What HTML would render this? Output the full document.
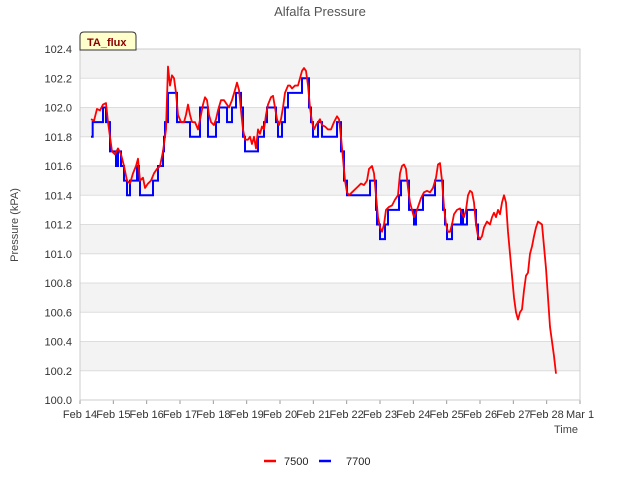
<!DOCTYPE html>
<html><head><meta charset="utf-8"><style>
body{margin:0;background:#fff;font-family:"Liberation Sans","DejaVu Sans",sans-serif}
</style></head><body>
<svg id="c" width="640" height="480" xmlns="http://www.w3.org/2000/svg">
<rect width="640" height="480" fill="#fff"/>
<g id="bands"></g>
<g id="grid"></g>
<g id="axes"></g>
<g id="series"></g>
<text x="320" y="16" text-anchor="middle" font-size="13" fill="#555">Alfalfa Pressure</text>
<text transform="translate(18,225) rotate(-90)" text-anchor="middle" font-size="11" fill="#444">Pressure (kPA)</text>
<text x="566" y="433" text-anchor="middle" font-size="11" fill="#444">Time</text>
<g>
<path d="M80,50 L80,36 Q80,32 84,32 L132,32 Q136,32 136,36 L136,50 Z" fill="#ffffcc" stroke="#333" stroke-width="1"/>
<text x="87" y="46" font-size="11" font-weight="bold" fill="#8b0000">TA_flux</text>
</g>
<g>
<line x1="264" y1="461" x2="276" y2="461" stroke="#f00" stroke-width="2.5"/>
<text x="284" y="465" font-size="11" fill="#222">7500</text>
<line x1="319" y1="461" x2="331" y2="461" stroke="#00f" stroke-width="2.5"/>
<text x="346" y="465" font-size="11" fill="#222">7700</text>
</g>
</svg>
<script>
const yTicks=[100.0,100.2,100.4,100.6,100.8,101.0,101.2,101.4,101.6,101.8,102.0,102.2,102.4];
const xTickLabels=["Feb 14","Feb 15","Feb 16","Feb 17","Feb 18","Feb 19","Feb 20","Feb 21","Feb 22","Feb 23","Feb 24","Feb 25","Feb 26","Feb 27","Feb 28","Mar 1"];
const redTimes=[0.33,0.42,0.51,0.60,0.69,0.78,0.84,0.90,0.96,1.05,1.14,1.23,1.32,1.41,1.50,1.59,1.68,1.74,1.80,1.89,1.95,2.04,2.13,2.22,2.31,2.40,2.49,2.58,2.64,2.70,2.76,2.82,2.88,2.94,3.03,3.12,3.18,3.24,3.30,3.36,3.45,3.54,3.63,3.69,3.75,3.81,3.87,3.93,4.02,4.08,4.14,4.23,4.32,4.41,4.47,4.56,4.65,4.71,4.77,4.83,4.89,4.95,5.04,5.10,5.16,5.22,5.28,5.34,5.40,5.46,5.52,5.58,5.64,5.73,5.79,5.85,5.91,5.97,6.03,6.09,6.15,6.24,6.30,6.36,6.45,6.54,6.60,6.66,6.72,6.78,6.84,6.90,6.96,7.02,7.08,7.14,7.20,7.26,7.35,7.44,7.53,7.62,7.71,7.77,7.83,7.89,7.95,8.01,8.07,8.16,8.25,8.34,8.43,8.52,8.61,8.67,8.76,8.82,8.88,8.94,9.00,9.06,9.12,9.18,9.27,9.36,9.45,9.54,9.60,9.66,9.72,9.78,9.84,9.90,9.96,10.02,10.08,10.14,10.23,10.32,10.41,10.50,10.59,10.68,10.74,10.80,10.86,10.92,10.98,11.04,11.10,11.16,11.22,11.31,11.40,11.46,11.52,11.58,11.64,11.70,11.76,11.82,11.88,11.94,12.00,12.06,12.12,12.21,12.30,12.36,12.42,12.48,12.54,12.60,12.66,12.72,12.78,12.84,12.90,12.96,13.02,13.08,13.14,13.20,13.26,13.32,13.38,13.44,13.50,13.56,13.62,13.68,13.74,13.80,13.86,13.92,13.98,14.04,14.10,14.16,14.22,14.28];
const redValues=[101.92,101.91,101.99,101.98,102.02,102.03,101.9,101.8,101.7,101.68,101.72,101.68,101.6,101.5,101.48,101.55,101.6,101.65,101.5,101.52,101.45,101.48,101.5,101.55,101.58,101.6,101.7,101.85,102.28,102.15,102.22,102.2,102.1,101.95,101.9,101.9,101.95,102.02,101.95,101.9,101.9,101.85,101.95,102.02,102.07,102.05,101.95,101.9,101.88,101.92,101.98,102.05,102.05,102.02,102.0,102.05,102.12,102.17,102.12,101.98,101.85,101.78,101.78,101.8,101.75,101.8,101.72,101.85,101.82,101.87,101.85,101.95,102.02,102.07,102.08,102.0,101.92,101.88,101.92,102.0,102.1,102.15,102.15,102.13,102.15,102.15,102.2,102.25,102.27,102.25,102.15,102.0,101.9,101.85,101.88,101.9,101.92,101.88,101.87,101.85,101.85,101.9,101.94,101.92,101.8,101.65,101.5,101.42,101.4,101.42,101.44,101.46,101.48,101.47,101.5,101.58,101.6,101.55,101.4,101.25,101.18,101.15,101.2,101.3,101.32,101.33,101.37,101.4,101.55,101.6,101.61,101.58,101.45,101.35,101.3,101.25,101.28,101.32,101.38,101.42,101.43,101.42,101.45,101.52,101.61,101.62,101.5,101.32,101.2,101.15,101.15,101.2,101.27,101.3,101.31,101.27,101.25,101.3,101.4,101.43,101.42,101.35,101.2,101.12,101.1,101.12,101.18,101.22,101.2,101.25,101.28,101.25,101.3,101.27,101.35,101.4,101.35,101.15,101.0,100.85,100.7,100.6,100.55,100.6,100.62,100.75,100.85,100.87,101.0,101.05,101.12,101.18,101.22,101.21,101.2,101.05,100.9,100.7,100.5,100.4,100.3,100.18];
const blueTimes=[0.33,0.38,0.69,0.78,0.90,1.08,1.14,1.23,1.32,1.41,1.50,1.71,1.77,1.80,2.19,2.34,2.49,2.52,2.55,2.64,2.91,3.30,3.60,3.84,4.08,4.17,4.41,4.56,4.68,4.83,4.89,4.95,5.34,5.52,5.61,5.88,5.94,6.06,6.15,6.24,6.66,6.87,6.93,6.99,7.14,7.26,7.71,7.83,7.92,8.01,8.70,8.88,8.91,9.00,9.15,9.24,9.57,9.63,9.87,10.02,10.08,10.29,10.65,10.89,10.95,11.01,11.16,11.43,11.49,11.61,11.88,11.94,12.03];
const blueValues=[101.8,101.9,102.0,101.9,101.7,101.6,101.7,101.6,101.5,101.4,101.5,101.6,101.5,101.4,101.5,101.6,101.7,101.8,101.9,102.1,101.9,101.8,102.0,101.8,101.9,102.0,101.9,102.0,102.1,102.0,101.8,101.7,101.8,101.9,102.0,101.9,101.8,101.9,102.0,102.1,102.2,102.0,101.9,101.8,101.9,101.8,101.9,101.7,101.5,101.4,101.5,101.3,101.2,101.1,101.2,101.3,101.4,101.5,101.3,101.2,101.3,101.4,101.5,101.3,101.2,101.1,101.2,101.3,101.2,101.3,101.2,101.1,101.1];

const X0=80,X1=580,Y0=400,Y1=49,NS="http://www.w3.org/2000/svg";
const xs=d=>X0+(X1-X0)*d/15;
const ys=v=>Y0-(Y0-Y1)*(v-100)/2.4;
function mk(t,a,p){const e=document.createElementNS(NS,t);for(const k in a)e.setAttribute(k,a[k]);p.appendChild(e);return e;}
const bands=document.getElementById('bands'),grid=document.getElementById('grid'),axes=document.getElementById('axes'),series=document.getElementById('series');
for(let i=0;i<yTicks.length-1;i++){
  const r=mk('rect',{x:X0,y:ys(yTicks[i+1]),width:X1-X0,height:ys(yTicks[i])-ys(yTicks[i+1]),fill:(i%2===1)?'#f3f3f3':'#fff'},bands);
  
  
}
yTicks.forEach(v=>{
  const l=mk('line',{x1:X0,x2:X1,y1:ys(v),y2:ys(v),stroke:'#ddd','stroke-width':1},grid);
  
  
  const t=mk('text',{x:X0-8,y:ys(v)+4,'text-anchor':'end','font-size':11,fill:'#333'},axes);
  
  
  t.textContent=v.toFixed(1);
});
xTickLabels.forEach((s,i)=>{
  const l=mk('line',{x1:xs(i),x2:xs(i),y1:Y0,y2:Y0+4,stroke:'#999'},axes);
  
  
  const t=mk('text',{x:xs(i),y:Y0+18,'text-anchor':'middle','font-size':11,fill:'#333'},axes);
  
  
  t.textContent=s;
});
const fr=mk('rect',{x:X0,y:Y1,width:X1-X0,height:Y0-Y1,fill:'none',stroke:'#ccc'},axes);


let d='';
blueTimes.forEach((t,i)=>{const x=xs(t),y=ys(blueValues[i]);if(i===0)d+='M'+x+','+y;else d+='H'+x+'V'+y;});
const bp=mk('path',{d:d,fill:'none',stroke:'#00f','stroke-width':2},series);


d=redTimes.map((t,i)=>(i?'L':'M')+xs(t)+','+ys(redValues[i])).join('');
const rp=mk('path',{d:d,fill:'none',stroke:'#f00','stroke-width':1.8,'stroke-linejoin':'round'},series);


</script>
</body></html>
